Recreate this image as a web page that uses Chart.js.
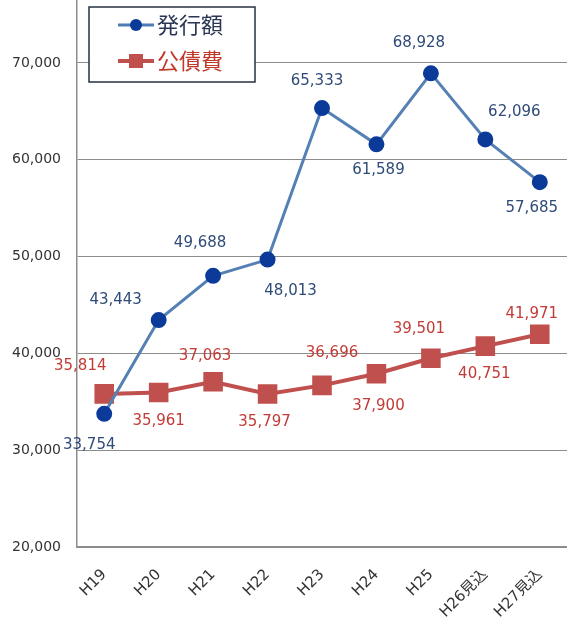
<!DOCTYPE html>
<html>
<head>
<meta charset="utf-8">
<script src="https://cdn.jsdelivr.net/npm/chart.js@4/dist/chart.umd.min.js"></script>
<style>
  html, body { margin: 0; padding: 0; background: #fff; }
  #wrap { width: 567px; height: 625px; }
</style>
</head>
<body>
<div id="wrap"><canvas id="myChart" width="567" height="625"></canvas></div>
<script>
// data
const years = ['H19', 'H20', 'H21', 'H22', 'H23', 'H24', 'H25', 'H26見込', 'H27見込'];
const hakko = [33754, 43443, 48013, 49688, 65333, 61589, 68928, 62096, 57685];
const kosai = [35814, 35961, 37063, 35797, 36696, 37900, 39501, 40751, 41971];
// value labels as printed (H21/H22 are swapped in the original)
const hakkoText = ['33,754', '43,443', '49,688', '48,013', '65,333', '61,589', '68,928', '62,096', '57,685'];
const kosaiText = ['35,814', '35,961', '37,063', '35,797', '36,696', '37,900', '39,501', '40,751', '41,971'];
const yTicks = [20000, 30000, 40000, 50000, 60000, 70000];

// where each value label sits relative to its point
const hakkoOff = [[-15, 31], [-43, -20], [-13, -33], [23, 32], [-5, -27], [2, 26], [-12, -30], [29, -27], [-8, 26]];
const kosaiOff = [[-24, -28], [0, 29], [-8, -26], [-3, 28], [10, -32], [2, 32], [-12, -29], [-1, 28], [-8, -20]];

const FONT = '"DejaVu Sans", "Noto Sans CJK JP", sans-serif';
const JFONT = '"Noto Sans CJK JP", sans-serif';

const labelPlugin = {
  id: 'valueLabels',
  afterDatasetsDraw(chart) {
    const ctx = chart.ctx;
    const sets = [[0, hakkoText, hakkoOff, '#2f4b78'], [1, kosaiText, kosaiOff, '#c23b36']];
    ctx.save();
    ctx.font = '15px ' + FONT;
    ctx.textAlign = 'center';
    ctx.textBaseline = 'middle';
    sets.forEach(([i, texts, offs, color]) => {
      ctx.fillStyle = color;
      chart.getDatasetMeta(i).data.forEach((pt, j) => {
        ctx.fillText(texts[j], pt.x + offs[j][0], pt.y + offs[j][1]);
      });
    });
    ctx.restore();
  }
};

const legendPlugin = {
  id: 'boxLegend',
  afterDraw(chart) {
    const ctx = chart.ctx;
    ctx.save();
    ctx.fillStyle = '#fff';
    ctx.fillRect(89, 7, 166, 75);
    ctx.strokeStyle = '#24303f';
    ctx.lineWidth = 1.5;
    ctx.strokeRect(89, 7, 166, 75);

    // 発行額
    ctx.strokeStyle = '#4f7db5';
    ctx.lineWidth = 3;
    ctx.beginPath(); ctx.moveTo(118, 25); ctx.lineTo(154, 25); ctx.stroke();
    ctx.fillStyle = '#0b3a99';
    ctx.beginPath(); ctx.arc(136, 25, 6, 0, Math.PI * 2); ctx.fill();

    // 公債費
    ctx.strokeStyle = '#c0504d';
    ctx.lineWidth = 4;
    ctx.beginPath(); ctx.moveTo(118, 61); ctx.lineTo(154, 61); ctx.stroke();
    ctx.fillStyle = '#c0504d';
    ctx.fillRect(129, 54, 14, 14);

    ctx.font = '22px ' + JFONT;
    ctx.textBaseline = 'middle';
    ctx.textAlign = 'left';
    ctx.fillStyle = '#2b3656';
    ctx.fillText('発行額', 157, 25);
    ctx.fillStyle = '#c0392b';
    ctx.fillText('公債費', 157, 61);
    ctx.restore();
  }
};

function noPad(scale) {
  scale.paddingLeft = 0;
  scale.paddingRight = 0;
  scale.paddingTop = 0;
  scale.paddingBottom = 0;
}

const config = {
  type: 'line',
  data: {
    labels: years,
    datasets: [
      {
        label: '発行額',
        data: hakko,
        borderColor: '#5580b4',
        borderWidth: 3,
        pointBackgroundColor: '#0b3a99',
        pointBorderColor: '#0b3a99',
        pointRadius: 6.5,
        pointStyle: 'circle',
        tension: 0,
      },
      {
        label: '公債費',
        data: kosai,
        borderColor: '#c0504d',
        borderWidth: 4,
        pointBackgroundColor: '#c0504d',
        pointBorderColor: '#c0504d',
        pointRadius: 11,
        pointStyle: 'rect',
        tension: 0,
      }
    ]
  },
  options: {
    responsive: false,
    animation: false,
    layout: { padding: 0, autoPadding: false },
    plugins: {
      legend: { display: false },
      tooltip: { enabled: false },
    },
    scales: {
      x: {
        offset: true,
        grid: { display: false, drawTicks: false },
        border: { display: true, color: '#8c8c8c', width: 1.5 },
        ticks: {
          minRotation: 45,
          maxRotation: 45,
          padding: 19,
          color: '#333',
          font: { family: FONT, size: 15 },
        },
        afterFit(scale) { scale.height = 78; noPad(scale); },
      },
      y: {
        min: 20000,
        max: 76500,
        grid: { color: '#8c8c8c', drawTicks: false },
        border: { display: true, color: '#8c8c8c', width: 1.5 },
        afterBuildTicks(scale) { scale.ticks = yTicks.map(v => ({ value: v })); },
        ticks: {
          padding: 16,
          color: '#333',
          font: { family: FONT, size: 14 },
          callback: (v) => v.toLocaleString('en-US'),
        },
        afterFit(scale) { scale.width = 77; noPad(scale); },
      }
    }
  },
  plugins: [labelPlugin, legendPlugin]
};

const myChart = new Chart(document.getElementById('myChart'), config);
</script>
</body>
</html>
